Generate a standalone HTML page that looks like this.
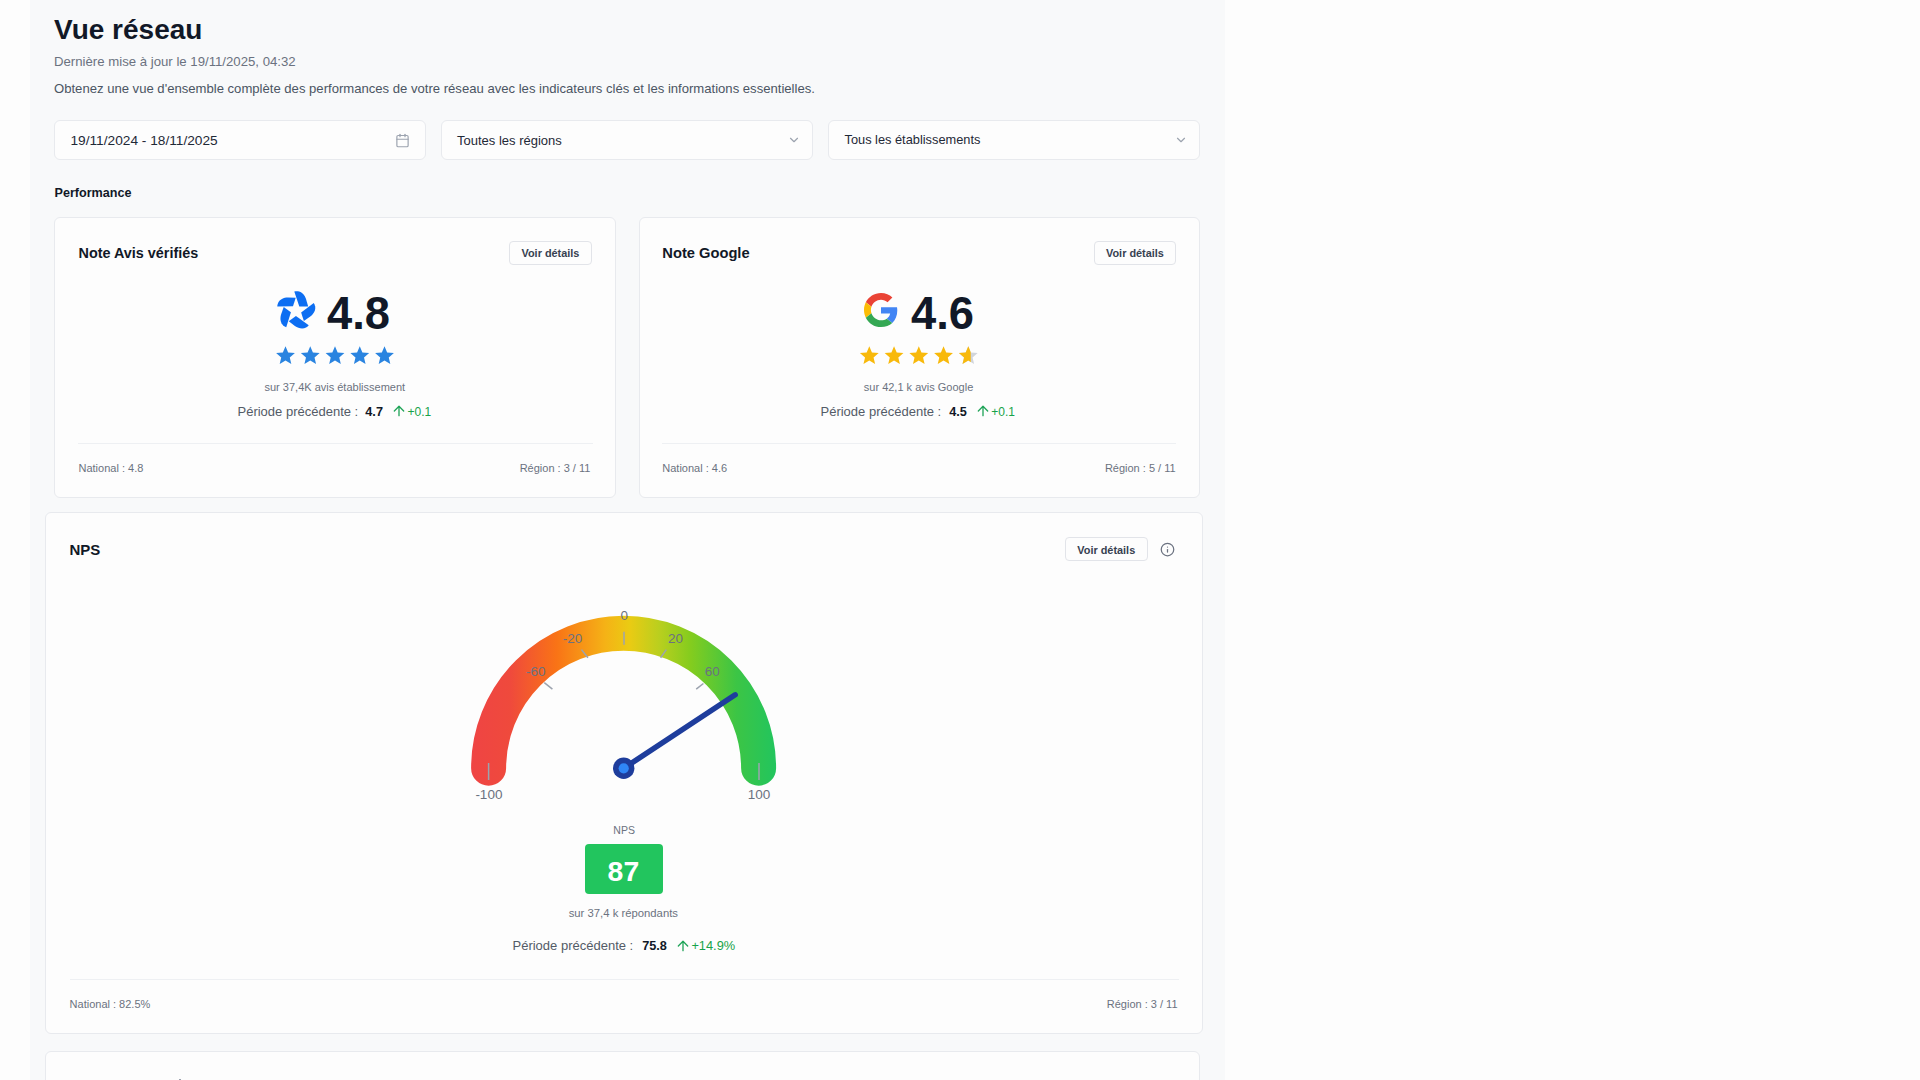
<!DOCTYPE html>
<html lang="fr">
<head>
<meta charset="utf-8">
<title>Vue réseau</title>
<style>
html,body{margin:0;padding:0;}
body{width:1920px;height:1080px;overflow:hidden;background:#fdfdfd;position:relative;font-family:"Liberation Sans",sans-serif;color:#111827;}
.band{position:absolute;left:30px;top:0;width:1195px;height:1080px;background:#f8f9fa;}
.t{position:absolute;white-space:nowrap;line-height:1;}
.box{position:absolute;box-sizing:border-box;background:#fdfdfd;border:1px solid #e8eaee;}
.card{border-radius:6px;}
.btn{position:absolute;box-sizing:border-box;background:#fdfdfd;border:1px solid #e2e4e9;border-radius:4px;}
.hr{position:absolute;height:1px;background:#eef0f3;}
svg{position:absolute;overflow:visible;}
</style>
</head>
<body>
<div class="band"></div>

<!-- Header -->
<div class="t" style="left:54px;top:15.5px;font-size:28px;font-weight:700;color:#111827;">Vue réseau</div>
<div class="t" style="left:54px;top:54.7px;font-size:13.2px;color:#6b7280;">Dernière mise à jour le 19/11/2025, 04:32</div>
<div class="t" style="left:54px;top:82px;font-size:13.1px;color:#4b5563;">Obtenez une vue d'ensemble complète des performances de votre réseau avec les indicateurs clés et les informations essentielles.</div>

<!-- Filters -->
<div class="box" style="left:54px;top:120px;width:372px;height:40px;border-radius:6px;"></div>
<div class="t" style="left:70.5px;top:133.7px;font-size:13.7px;color:#1f2937;">19/11/2024 - 18/11/2025</div>
<svg style="left:394.5px;top:132.7px" width="15" height="15" viewBox="0 0 24 24" fill="none" stroke="#9ca3af" stroke-width="1.9" stroke-linecap="round" stroke-linejoin="round"><path d="M8 2v4"/><path d="M16 2v4"/><rect width="18" height="18" x="3" y="4" rx="2"/><path d="M3 10h18"/></svg>

<div class="box" style="left:441px;top:120px;width:372px;height:40px;border-radius:6px;"></div>
<div class="t" style="left:457px;top:134.2px;font-size:13px;color:#1f2937;">Toutes les régions</div>
<svg style="left:786.5px;top:133px" width="14" height="14" viewBox="0 0 24 24" fill="none" stroke="#9ca3af" stroke-width="2" stroke-linecap="round" stroke-linejoin="round"><path d="m6 9 6 6 6-6"/></svg>

<div class="box" style="left:828px;top:120px;width:372px;height:40px;border-radius:6px;"></div>
<div class="t" style="left:844.5px;top:134.2px;font-size:12.8px;color:#1f2937;">Tous les établissements</div>
<svg style="left:1173.9px;top:133px" width="14" height="14" viewBox="0 0 24 24" fill="none" stroke="#9ca3af" stroke-width="2" stroke-linecap="round" stroke-linejoin="round"><path d="m6 9 6 6 6-6"/></svg>

<div class="t" style="left:54.5px;top:186.8px;font-size:12.6px;font-weight:700;color:#111827;">Performance</div>

<!-- Card 1 -->
<div class="box card" style="left:54px;top:217px;width:562px;height:281px;"></div>
<div class="t" style="left:78.5px;top:246.2px;font-size:14.4px;font-weight:700;color:#111827;">Note Avis vérifiés</div>
<div class="btn" style="left:509px;top:241px;width:83px;height:24px;"></div>
<div class="t" style="left:521.5px;top:248.4px;font-size:10.9px;font-weight:700;color:#374151;">Voir détails</div>
<svg style="left:274px;top:287px" width="46" height="46" viewBox="0 0 46 46">
  <defs><path id="blade" d="M20.3 4.5 L25.3 19.4 L34.2 19.4 L32 12 C30.6 7.8 27.6 4.6 23.8 4.2 C22.5 4.1 21.3 4.2 20.3 4.5 Z"/></defs>
  <g fill="#0d6ef2">
    <use href="#blade"/>
    <use href="#blade" transform="rotate(72 22.06 23.68)"/>
    <use href="#blade" transform="rotate(144 22.06 23.68)"/>
    <use href="#blade" transform="rotate(216 22.06 23.68)"/>
    <use href="#blade" transform="rotate(288 22.06 23.68)"/>
  </g>
</svg>
<div class="t" style="left:327px;top:291.2px;font-size:45.3px;font-weight:700;color:#111827;">4.8</div>
<svg style="left:0;top:0" width="1920" height="1080" viewBox="0 0 1920 1080">
  <defs><path id="star" d="M12 17.27L18.18 21l-1.64-7.03L22 9.24l-7.19-.61L12 2 9.19 8.63 2 9.24l5.46 4.73L5.82 21z"/>
  <clipPath id="half"><rect x="0" y="0" width="14.6" height="24"/></clipPath></defs>
  <g fill="#2a84e0">
    <use href="#star" transform="translate(274.22 344.37) scale(0.94)"/>
    <use href="#star" transform="translate(298.97 344.37) scale(0.94)"/>
    <use href="#star" transform="translate(323.72 344.37) scale(0.94)"/>
    <use href="#star" transform="translate(348.47 344.37) scale(0.94)"/>
    <use href="#star" transform="translate(373.22 344.37) scale(0.94)"/>
  </g>
</svg>
<div class="t" style="left:264.5px;top:382.3px;font-size:11px;color:#6b7280;">sur 37,4K avis établissement</div>
<div class="t" style="left:237.5px;top:405px;font-size:13px;color:#535b67;">Période précédente :</div>
<div class="t" style="left:365.3px;top:405.5px;font-size:12.7px;font-weight:700;color:#111827;">4.7</div>
<svg style="left:390.5px;top:403px" width="16" height="16" viewBox="0 0 24 24" fill="none" stroke="#22a55a" stroke-width="2" stroke-linecap="round" stroke-linejoin="round"><path d="m5 12 7-7 7 7"/><path d="M12 19V5"/></svg>
<div class="t" style="left:407.5px;top:406.3px;font-size:12px;color:#16a34a;">+0.1</div>
<div class="hr" style="left:78px;top:443px;width:515px;"></div>
<div class="t" style="left:78.5px;top:462.6px;font-size:11px;color:#6b7280;">National : 4.8</div>
<div class="t" style="right:1329.6px;top:462.6px;font-size:11px;color:#6b7280;">Région : 3 / 11</div>

<!-- Card 2 -->
<div class="box card" style="left:639px;top:217px;width:561px;height:281px;"></div>
<div class="t" style="left:662.3px;top:245.9px;font-size:14.7px;font-weight:700;color:#111827;">Note Google</div>
<div class="btn" style="left:1094px;top:241px;width:82px;height:24px;"></div>
<div class="t" style="left:1106px;top:248.4px;font-size:10.9px;font-weight:700;color:#374151;">Voir détails</div>
<svg style="left:864px;top:293.3px" width="34" height="34" viewBox="0 0 48 48">
<path fill="#EA4335" d="M24 9.5c3.54 0 6.71 1.22 9.21 3.6l6.85-6.85C35.9 2.38 30.47 0 24 0 14.62 0 6.51 5.38 2.56 13.22l7.98 6.19C12.43 13.72 17.74 9.5 24 9.5z"/>
<path fill="#4285F4" d="M46.98 24.55c0-1.57-.15-3.09-.38-4.55H24v9.02h12.94c-.58 2.96-2.26 5.48-4.78 7.18l7.730 6c4.51-4.18 7.09-10.36 7.09-17.65z"/>
<path fill="#FBBC05" d="M10.53 28.59c-.48-1.450-.76-2.99-.76-4.59s.27-3.14.76-4.59l-7.98-6.19C.92 16.46 0 20.12 0 24c0 3.88.92 7.54 2.56 10.78l7.97-6.19z"/>
<path fill="#34A853" d="M24 48c6.48 0 11.93-2.13 15.89-5.81l-7.73-6c-2.15 1.45-4.92 2.3-8.16 2.3-6.26 0-11.57-4.22-13.47-9.91l-7.98 6.19C6.51 42.62 14.62 48 24 48z"/>
</svg>
<div class="t" style="left:911px;top:291.2px;font-size:45.3px;font-weight:700;color:#111827;">4.6</div>
<svg style="left:0;top:0" width="1920" height="1080" viewBox="0 0 1920 1080">
  <g fill="#f8b90b">
    <use href="#star" transform="translate(858.02 344.37) scale(0.94)"/>
    <use href="#star" transform="translate(882.77 344.37) scale(0.94)"/>
    <use href="#star" transform="translate(907.52 344.37) scale(0.94)"/>
    <use href="#star" transform="translate(932.27 344.37) scale(0.94)"/>
  </g>
  <g transform="translate(957.02 344.37) scale(0.94)">
    <use href="#star" fill="#d1d5db"/>
    <use href="#star" fill="#f8b90b" clip-path="url(#half)"/>
  </g>
</svg>
<div class="t" style="left:863.8px;top:382.3px;font-size:11px;color:#6b7280;">sur 42,1 k avis Google</div>
<div class="t" style="left:820.5px;top:405px;font-size:13px;color:#535b67;">Période précédente :</div>
<div class="t" style="left:949.2px;top:405.5px;font-size:12.7px;font-weight:700;color:#111827;">4.5</div>
<svg style="left:974.5px;top:403px" width="16" height="16" viewBox="0 0 24 24" fill="none" stroke="#22a55a" stroke-width="2" stroke-linecap="round" stroke-linejoin="round"><path d="m5 12 7-7 7 7"/><path d="M12 19V5"/></svg>
<div class="t" style="left:991.3px;top:406.3px;font-size:12px;color:#16a34a;">+0.1</div>
<div class="hr" style="left:662px;top:443px;width:514px;"></div>
<div class="t" style="left:662.3px;top:462.6px;font-size:11px;color:#6b7280;">National : 4.6</div>
<div class="t" style="right:744.4px;top:462.6px;font-size:11px;color:#6b7280;">Région : 5 / 11</div>

<!-- NPS card -->
<div class="box card" style="left:45px;top:512px;width:1158px;height:522px;"></div>
<div class="t" style="left:69.5px;top:541.9px;font-size:15px;font-weight:700;color:#111827;">NPS</div>
<div class="btn" style="left:1065px;top:536.5px;width:83px;height:24.5px;"></div>
<div class="t" style="left:1077.3px;top:545.2px;font-size:10.9px;font-weight:700;color:#374151;">Voir détails</div>
<svg style="left:1160.2px;top:541.6px" width="15" height="15" viewBox="0 0 24 24" fill="none" stroke="#6b7280" stroke-width="2" stroke-linecap="round" stroke-linejoin="round"><circle cx="12" cy="12" r="10"/><path d="M12 16v-4"/><path d="M12 8h.01"/></svg>

<svg style="left:440px;top:590px" width="360" height="230" viewBox="440 590 360 230">
  <defs>
    <linearGradient id="gg" gradientUnits="userSpaceOnUse" x1="471" y1="0" x2="776" y2="0">
      <stop offset="0" stop-color="#ef4444"/>
      <stop offset="0.13" stop-color="#ef4a3c"/>
      <stop offset="0.28" stop-color="#f97316"/>
      <stop offset="0.44" stop-color="#f5b216"/>
      <stop offset="0.52" stop-color="#eacb13"/>
      <stop offset="0.62" stop-color="#b8cf1f"/>
      <stop offset="0.72" stop-color="#84cc1e"/>
      <stop offset="0.87" stop-color="#3cc545"/>
      <stop offset="1" stop-color="#22c55e"/>
    </linearGradient>
  </defs>
  <path d="M488.6 768.2 A135 135 0 0 1 758.6 768.2" fill="none" stroke="url(#gg)" stroke-width="35" stroke-linecap="round"/>
  <g stroke="#9ca3af" stroke-width="1.5" stroke-linecap="butt">
    <line x1="488.6" y1="763" x2="488.6" y2="780"/>
    <line x1="759" y1="763" x2="759" y2="780"/>
    <line x1="624" y1="631.8" x2="624" y2="644.7"/>
    <line x1="581.5" y1="649.6" x2="587.9" y2="657.7"/>
    <line x1="666.3" y1="649.6" x2="660.6" y2="657.7"/>
    <line x1="544.3" y1="682.7" x2="552.4" y2="689.2"/>
    <line x1="703.4" y1="683.5" x2="696.2" y2="689.2"/>
  </g>
  <g font-family="Liberation Sans" font-size="13.5" fill="#6b7280" text-anchor="middle">
    <text x="624.2" y="620">0</text>
    <text x="572.5" y="642.6">-20</text>
    <text x="675.5" y="642.6">20</text>
    <text x="535.8" y="675.7">-60</text>
    <text x="712.3" y="675.7">60</text>
    <text x="488.9" y="799.1">-100</text>
    <text x="759" y="799.1">100</text>
  </g>
  <line x1="623.7" y1="768.3" x2="735.2" y2="694.8" stroke="#1e3d9c" stroke-width="5.5" stroke-linecap="round"/>
  <circle cx="623.7" cy="768.3" r="10.7" fill="#1e3d9c"/>
  <circle cx="623.7" cy="768.3" r="5.1" fill="#2f86f6"/>
</svg>

<div class="t" style="left:613.3px;top:824.5px;font-size:10.5px;color:#6b7280;">NPS</div>
<div style="position:absolute;left:584.5px;top:843.5px;width:78.5px;height:50.5px;border-radius:4px;background:#22c55e;"></div>
<div class="t" style="left:607.6px;top:857px;font-size:28.4px;font-weight:700;color:#ffffff;">87</div>
<div class="t" style="left:568.7px;top:908.2px;font-size:11.3px;color:#6b7280;">sur 37,4 k répondants</div>
<div class="t" style="left:512.5px;top:939.1px;font-size:13px;color:#535b67;">Période précédente :</div>
<div class="t" style="left:642.2px;top:939.9px;font-size:12.7px;font-weight:700;color:#111827;">75.8</div>
<svg style="left:674.75px;top:937.6px" width="16" height="16" viewBox="0 0 24 24" fill="none" stroke="#22a55a" stroke-width="2" stroke-linecap="round" stroke-linejoin="round"><path d="m5 12 7-7 7 7"/><path d="M12 19V5"/></svg>
<div class="t" style="left:691.4px;top:939.8px;font-size:12.8px;color:#16a34a;">+14.9%</div>
<div class="hr" style="left:70px;top:979px;width:1109px;"></div>
<div class="t" style="left:69.6px;top:998.6px;font-size:11px;color:#6b7280;">National : 82.5%</div>
<div class="t" style="right:742.5px;top:998.6px;font-size:11px;color:#6b7280;">Région : 3 / 11</div>

<!-- Bottom card -->
<div class="box card" style="left:45px;top:1051px;width:1155px;height:60px;"></div>
<div style="position:absolute;left:178.5px;top:1078.6px;width:2px;height:1.4px;background:#9aa0ad;"></div>

</body>
</html>
